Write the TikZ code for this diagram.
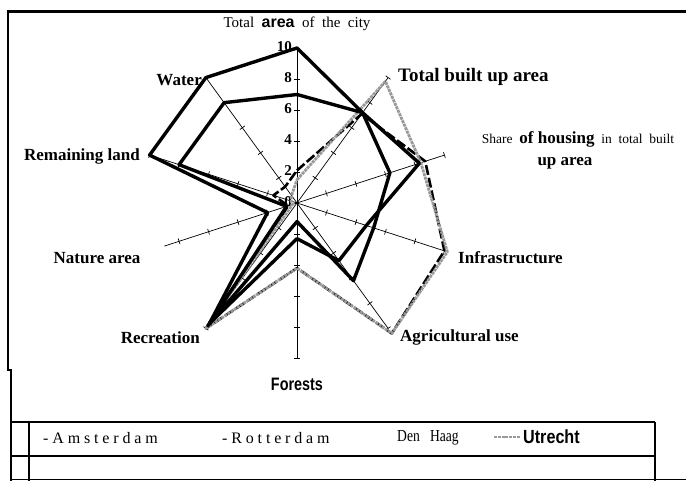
\documentclass[tikz,border=0pt]{standalone}
\usepackage{fontspec}
\setmainfont{Liberation Serif}
\newfontfamily\lsans{Liberation Sans}
\newfontfamily\spaced[LetterSpace=24]{Liberation Serif}
\usetikzlibrary{calc}
\begin{document}
\begin{tikzpicture}[x=1pt,y=1pt,
  axisline/.style={line width=0.7pt,black},
  tickmark/.style={line width=0.7pt,black},
  amsline/.style={line width=3.4pt,black,line join=round},
  rotline/.style={line width=3.4pt,black,line join=round},
  dhgline/.style={line width=2.6pt,black,line join=round,dash pattern=on 10pt off 3pt},
  utrline/.style={line width=2.8pt,black!40,line join=round,dash pattern=on 3pt off 0.8pt},
  frameline/.style={line width=2.4pt,black},
  lab/.style={inner sep=0pt,font=\fontsize{17}{17}\selectfont\bfseries},
  ticklab/.style={inner sep=0pt,font=\fontsize{15}{15}\selectfont\bfseries},
  legtext/.style={inner sep=0pt,anchor=west}]
\useasboundingbox (0,0) rectangle (686,481);
\coordinate (C) at (297,278);
\def\u{15.5}
% axes with ticks
\foreach \k/\len in {0/10,1/10,2/10,3/10,4/10,5/10,6/10,7/9,8/10,9/10}{
  \pgfmathsetmacro\ang{90-36*\k}
  \begin{scope}[shift={(C)},rotate=\ang]
    \draw[axisline] (0,0) -- ({\len*\u},0);
    \foreach \t in {2,4,...,\len}{
      \draw[tickmark] ({\t*\u},-3) -- ({\t*\u},3);
    }
  \end{scope}
}
% tick labels on the vertical axis
\foreach \v/\s in {10/10,8/8,6/6,4/4,2/2,0/0}{
  \node[ticklab,anchor=east] (t\v) at ($(C)+(90:{\v*\u})+(-5,1)$) {\s};
}
% data series: Total, Built, Share, Infra, Agric, Forest, Recreation, Nature, Remaining, Water
\foreach \v [count=\i from 0] in {1.5,9.7,8.4,10.2,10.4,4.2,10,0.3,0.4,0.6}{
  \coordinate (ut\i) at ($(C)+({90-36*\i}:{\v*\u})$);}
\foreach \v [count=\i from 0] in {2.1,7.1,8.7,10.0,10.4,4.2,10,0.6,1.6,1.3}{
  \coordinate (dh\i) at ($(C)+({90-36*\i}:{\v*\u})$);}
\foreach \v [count=\i from 0] in {10,7.2,8.3,4.7,4.6,2.3,9.6,2.0,10,10}{
  \coordinate (am\i) at ($(C)+({90-36*\i}:{\v*\u})$);}
\foreach \v [count=\i from 0] in {7.0,7.2,6.3,5.2,6.2,1.2,9.8,0.7,8,8}{
  \coordinate (ro\i) at ($(C)+({90-36*\i}:{\v*\u})$);}
\draw[dhgline] (dh0) \foreach \i in {1,...,9}{ -- (dh\i)} -- cycle;
\draw[utrline] (ut0) \foreach \i in {1,...,9}{ -- (ut\i)} -- cycle;
\draw[amsline] (am0) \foreach \i in {1,...,9}{ -- (am\i)} -- cycle;
\draw[rotline] (ro0) \foreach \i in {1,...,9}{ -- (ro\i)} -- cycle;
% axis labels
\node[inner sep=0pt] (ltot) at (297,457) {\fontsize{15}{15}\selectfont Total\ \ {\lsans\bfseries\fontsize{16}{16}\selectfont area}\ \ of\ \ the\ \ city};
\node[inner sep=0pt,anchor=west] (lbuilt) at (398,404) {\fontsize{19}{19}\selectfont\bfseries Total built up area};
\node[inner sep=0pt] (lshare) at (578,342) {\fontsize{13.5}{13.5}\selectfont Share\ \ {\bfseries\fontsize{17}{17}\selectfont of housing}\ \ in\ \ total\ \ built};
\node[lab] (lshare2) at (565,318) {up area};
\node[lab,anchor=west] (linfra) at (458,223) {Infrastructure};
\node[lab,anchor=west] (lagri) at (400,144) {Agricultural use};
\node[inner sep=0pt] (lfor) at (297,97) {\scalebox{0.8}[1]{\lsans\bfseries\fontsize{18}{18}\selectfont Forests}};
\node[lab,anchor=east] (lrec) at (200,143) {Recreation};
\node[lab] (lnat) at (97,223) {Nature area};
\node[lab,anchor=east] (lrem) at (140,325) {Remaining land};
\node[lab,anchor=east] (lwat) at (202,401) {Water};
% frame and legend table
\draw[frameline,line width=3pt] (7,469) -- (686,469);
\draw[frameline,line width=1.8pt] (8,470) -- (8,111) -- (11,111) -- (11,0);
\draw[frameline] (11,59) -- (655,59);
\draw[frameline,line width=2pt] (11,25) -- (655,25);
\draw[frameline,line width=1.6pt] (29,59) -- (29,0);
\draw[frameline,line width=2pt] (655,59) -- (655,0);
\draw[line width=1pt] (11,1) -- (686,1);
\node[legtext] (lgams) at (43,43) {\spaced\fontsize{16}{16}\selectfont -Amsterdam};
\node[legtext] (lgrot) at (222,43) {\spaced\fontsize{16}{16}\selectfont -Rotterdam};
\node[legtext] (lgdh) at (397,43) {\scalebox{0.85}[1.05]{\fontsize{16}{16}\selectfont Den\ \ \ Haag}};
\coordinate (us1) at (494,44);
\coordinate (us2) at (520,44);
\draw[utrline,line width=1.8pt] (us1) -- (us2);
\node[legtext] (lgut) at (523,44) {\scalebox{0.85}[1]{\lsans\bfseries\fontsize{19}{19}\selectfont Utrecht}};
\end{tikzpicture}
\end{document}
